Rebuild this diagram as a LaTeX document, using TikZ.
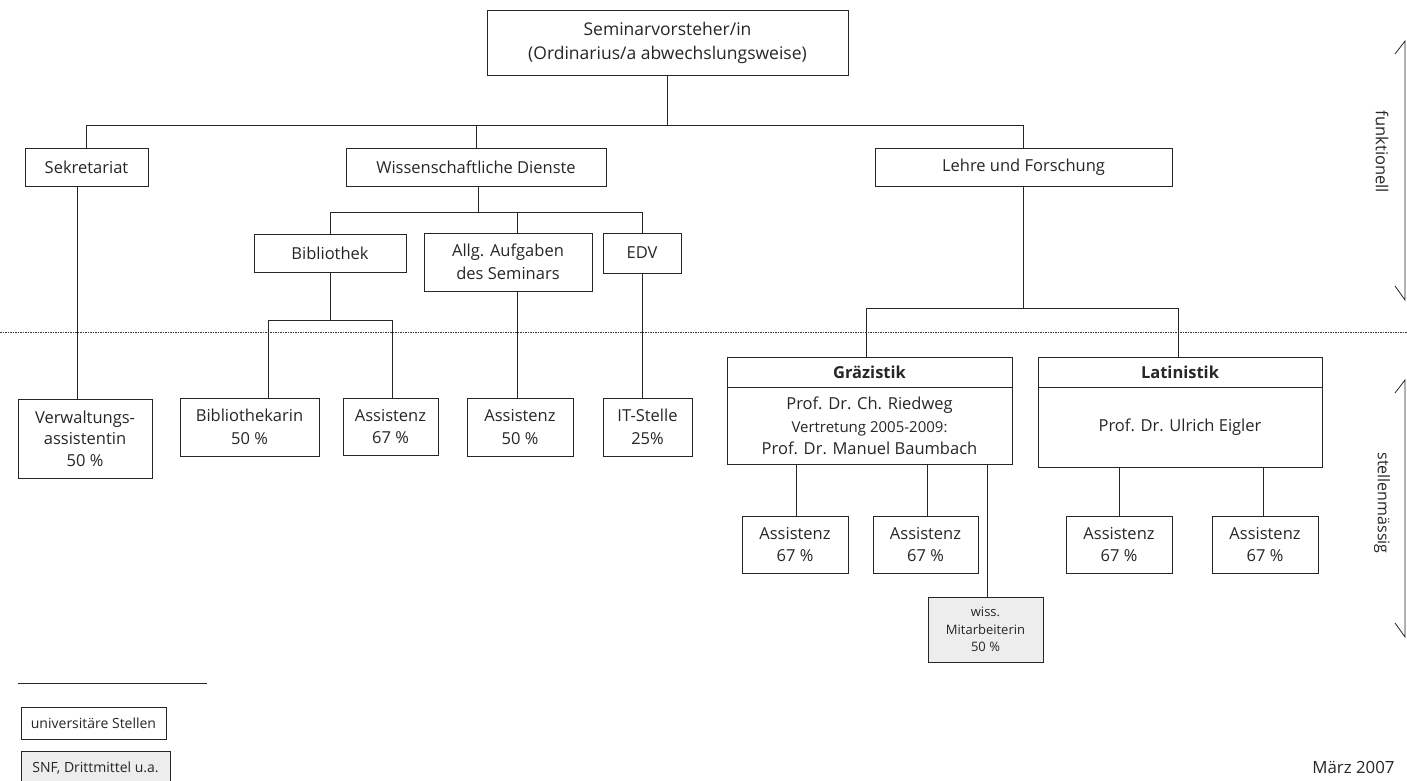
\documentclass[tikz,border=0pt]{standalone}
\usepackage{fontspec}
\setmainfont{Open Sans}
\begin{document}
\begin{tikzpicture}[x=1pt,y=-1pt,
  every node/.style={text=black!85},
  box/.style={draw=black!85, line width=0.8pt, inner sep=0pt, align=center,
    font=\fontsize{16.5}{22.5}\selectfont},
  gbox/.style={box, fill=black!7},
  conn/.style={draw=black!85, line width=0.8pt}]
\useasboundingbox (0,0) rectangle (1407,781);
\clip (0,0) rectangle (1407,781);
% top level
\node[box, minimum width=361, minimum height=65, font=\fontsize{17.5}{24}\selectfont] (top) at (667.5,42.5) {Seminarvorsteher/in\\(Ordinarius/a abwechslungsweise)};
\node[box, minimum width=123, minimum height=38] (sek) at (86.5,167) {Sekretariat};
\node[box, minimum width=260, minimum height=38] (wiss) at (476,167) {Wissenschaftliche Dienste};
\node[box, minimum width=297, minimum height=38] (lehre) at (1023.5,167) {Lehre und Forschung};
% second level
\node[box, minimum width=152, minimum height=38] (bib) at (330,253) {Bibliothek};
\node[box, minimum width=168, minimum height=58] (allg) at (508,262) {Allg. Aufgaben\\des Seminars};
\node[box, minimum width=78, minimum height=40] (edv) at (642,253) {EDV};
% posts
\node[box, minimum width=134, minimum height=79, font=\fontsize{16.5}{21.5}\selectfont] (verw) at (85,438.5) {Verwaltungs-\\assistentin\\50 \%};
\node[box, minimum width=139, minimum height=58] (bibk) at (249.5,427) {Bibliothekarin\\50 \%};
\node[box, minimum width=95, minimum height=57] (assb) at (390.5,426.5) {Assistenz\\67 \%};
\node[box, minimum width=106, minimum height=58] (assa) at (520,427) {Assistenz\\50 \%};
\node[box, minimum width=89, minimum height=58] (it) at (647.5,427) {IT-Stelle\\25\%};
% Graezistik / Latinistik
\node[box, minimum width=285, minimum height=30, font=\fontsize{16.5}{23}\selectfont\bfseries] (gh) at (869.5,372) {Gräzistik};
\node[box, minimum width=285, minimum height=77] (gb) at (869.5,426) {Prof. Dr. Ch. Riedweg\\{\fontsize{15}{20}\selectfont Vertretung 2005-2009:}\\Prof. Dr. Manuel Baumbach};
\node[box, minimum width=284, minimum height=30, font=\fontsize{16.5}{23}\selectfont\bfseries] (lh) at (1180,372) {Latinistik};
\node[box, minimum width=284, minimum height=80] (lb) at (1180,427) {Prof. Dr. Ulrich Eigler};
\node[box, minimum width=106, minimum height=57] (ga1) at (795,544.5) {Assistenz\\67 \%};
\node[box, minimum width=105, minimum height=57] (ga2) at (925.5,544.5) {Assistenz\\67 \%};
\node[gbox, minimum width=115, minimum height=65, font=\fontsize{13}{17.5}\selectfont] (wm) at (985.5,629.5) {wiss.\\Mitarbeiterin\\50 \%};
\node[box, minimum width=106, minimum height=57] (la1) at (1119,544.5) {Assistenz\\67 \%};
\node[box, minimum width=106, minimum height=57] (la2) at (1265,544.5) {Assistenz\\67 \%};
% bus coordinates
\coordinate (b1) at (0,125);
\coordinate (b2) at (0,212);
\coordinate (b3) at (0,320);
\coordinate (b4) at (0,308);
% connectors
\draw[conn] (top.south) -- (top.south |- b1);
\draw[conn] (sek.north) |- (lehre.north |- b1) -- (lehre.north);
\draw[conn] (wiss.north) -- (wiss.north |- b1);
\draw[conn] ([xshift=2]wiss.south) -- ([xshift=2]wiss.south |- b2);
\draw[conn] (bib.north) |- (edv.north |- b2) -- (edv.north);
\draw[conn] ([xshift=9]allg.north) -- ([xshift=9]allg.north |- b2);
\draw[conn] ([xshift=9]allg.south) -- ([xshift=9]allg.south |- assa.north);
\draw[conn] (edv.south) -- (edv.south |- it.north);
\draw[conn] (bib.south) -- (bib.south |- b3);
\draw[conn] ([xshift=18.5]bibk.north) |- ([xshift=1.5]assb.north |- b3) -- ([xshift=1.5]assb.north);
\draw[conn] ([xshift=-9.5]sek.south) -- ([xshift=-9.5]sek.south |- verw.north);
\draw[conn] (lehre.south) -- (lehre.south |- b4);
\draw[conn] ([xshift=-3.5]gh.north) |- ([xshift=-2]lh.north |- b4) -- ([xshift=-2]lh.north);
\draw[conn] ([xshift=1]ga1.north |- gb.south) -- ([xshift=1]ga1.north);
\draw[conn] ([xshift=1.5]ga2.north |- gb.south) -- ([xshift=1.5]ga2.north);
\draw[conn] ([xshift=1.5]wm.north |- gb.south) -- ([xshift=1.5]wm.north);
\draw[conn] (la1.north |- lb.south) -- (la1.north);
\draw[conn] ([xshift=-2]la2.north |- lb.south) -- ([xshift=-2]la2.north);
% dotted separator
\coordinate (dl) at (0,332);
\coordinate (dr) at (1407,332);
\draw[black!80, line width=0.8pt, dash pattern=on 1.5pt off 1pt] (dl) -- (dr);
% right-hand ranges
\coordinate (fa) at (1405,41);
\coordinate (fb) at (1405,300);
\coordinate (sa) at (1405,380);
\coordinate (sb) at (1405,637);
\draw[conn] ([shift={(-10,13)}]fa) -- (fa) -- (fb) -- ([shift={(-10,-14)}]fb);
\draw[conn] ([shift={(-10,13)}]sa) -- (sa) -- (sb) -- ([shift={(-10,-14)}]sb);
\node[rotate=-90, font=\fontsize{16.5}{20}\selectfont] (funk) at (1382,152) {funktionell};
\node[rotate=-90, font=\fontsize{16}{20}\selectfont] (stell) at (1382,503) {stellenmässig};
% legend
\coordinate (ll) at (18,683);
\coordinate (lr) at (207,683);
\draw[conn] (ll) -- (lr);
\node[box, minimum width=145, minimum height=32, font=\fontsize{14}{16}\selectfont] (leg1) at (93.5,723) {universitäre Stellen};
\node[gbox, minimum width=149, minimum height=34, font=\fontsize{14}{16}\selectfont] (leg2) at (95.5,768) {SNF, Drittmittel u.a.};
\node[font=\fontsize{16.8}{19}\selectfont, anchor=east] (date) at (1398,767) {März 2007};
\end{tikzpicture}
\end{document}
